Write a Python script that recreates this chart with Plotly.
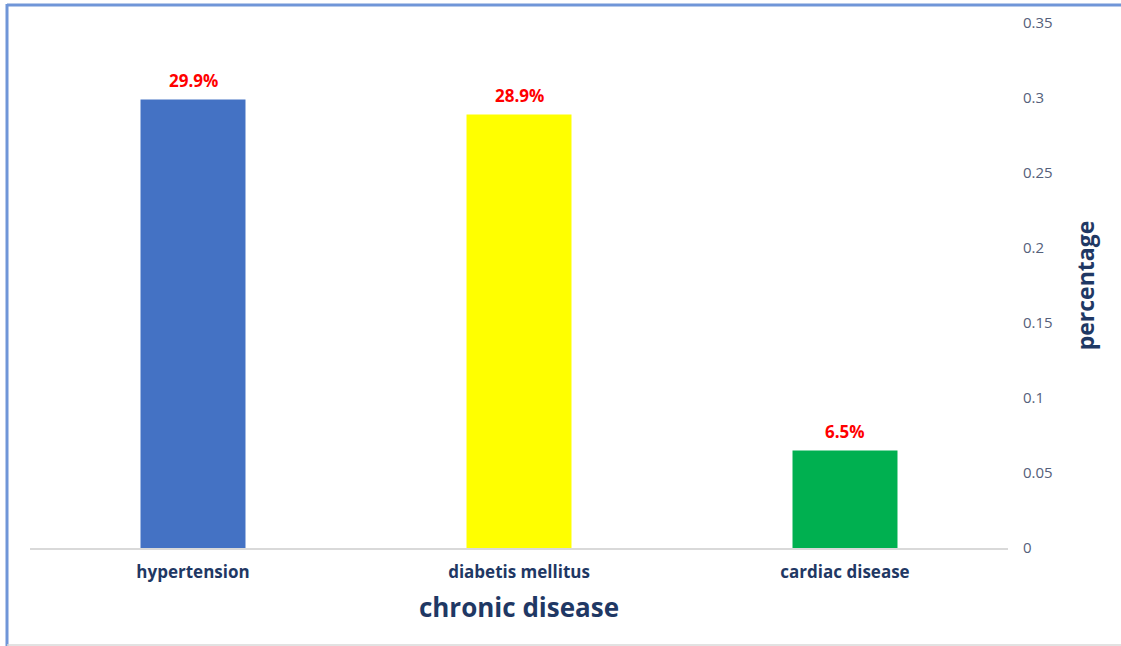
import plotly.graph_objects as go

categories = ["hypertension", "diabetis mellitus", "cardiac disease"]
values = [0.299, 0.289, 0.065]
bar_colors = ["#4472C4", "#FFFF00", "#00B050"]
tick_vals = [0, 0.05, 0.1, 0.15, 0.2, 0.25, 0.3, 0.35]
tick_text = ["0", "0.05", "0.1", "0.15", "0.2", "0.25", "0.3", "0.35"]

labels = [f"{v*100:.1f}%" for v in values]
FONT = "Open Sans"

fig = go.Figure()
fig.add_trace(go.Bar(
    x=categories, y=values, marker=dict(color=bar_colors, line=dict(width=0)),
    hoverinfo="skip",
))

W, H = 1121, 646
L, R, T, B = 30, 113, 23, 98
pw, ph = W - L - R, H - T - B

def px(x):
    return (x - L) / pw

def py(y):
    return (H - B - y) / ph

annotations = [
    dict(x=c, y=v, xref="x", yref="y", text=t, showarrow=False, yanchor="bottom",
         yshift=6, font=dict(family=FONT, size=17, color="#FF0000", weight="bold"))
    for c, v, t in zip(categories, values, labels)
]

fig.update_layout(
    width=W, height=H,
    margin=dict(l=L, r=R, t=T, b=B),
    paper_bgcolor="white", plot_bgcolor="white",
    bargap=0.678,
    showlegend=False,
    annotations=annotations,
    xaxis=dict(
        showgrid=False, showline=True, linecolor="#D9D9D9", linewidth=1.5,
        ticks="", ticklabelstandoff=8,
        tickfont=dict(family=FONT, size=17, color="#1F3864", weight="bold"),
        title=dict(text="chronic disease", font=dict(family=FONT, size=26, color="#1F3864", weight="bold"), standoff=17),
    ),
    yaxis=dict(
        side="right", range=[0, 0.35], showgrid=False, zeroline=False, showline=False,
        tickvals=tick_vals, ticktext=tick_text, ticks="", ticklabelstandoff=14,
        tickfont=dict(family=FONT, size=15, color="#55607A"),
        title=dict(text="percentage", font=dict(family=FONT, size=23, color="#1F3864", weight="bold"), standoff=26),
    ),
    shapes=[
        dict(type="line", xref="paper", yref="paper", x0=px(7), x1=px(1125), y0=py(5), y1=py(5),
             line=dict(color="#7096D8", width=3)),
        dict(type="line", xref="paper", yref="paper", x0=px(7), x1=px(7), y0=py(4), y1=py(650),
             line=dict(color="#7096D8", width=3)),
        dict(type="line", xref="paper", yref="paper", x0=px(7), x1=px(1125), y0=py(645), y1=py(645),
             line=dict(color="#D9D9D9", width=1.5)),
    ],
)

fig.write_html("out.html")
